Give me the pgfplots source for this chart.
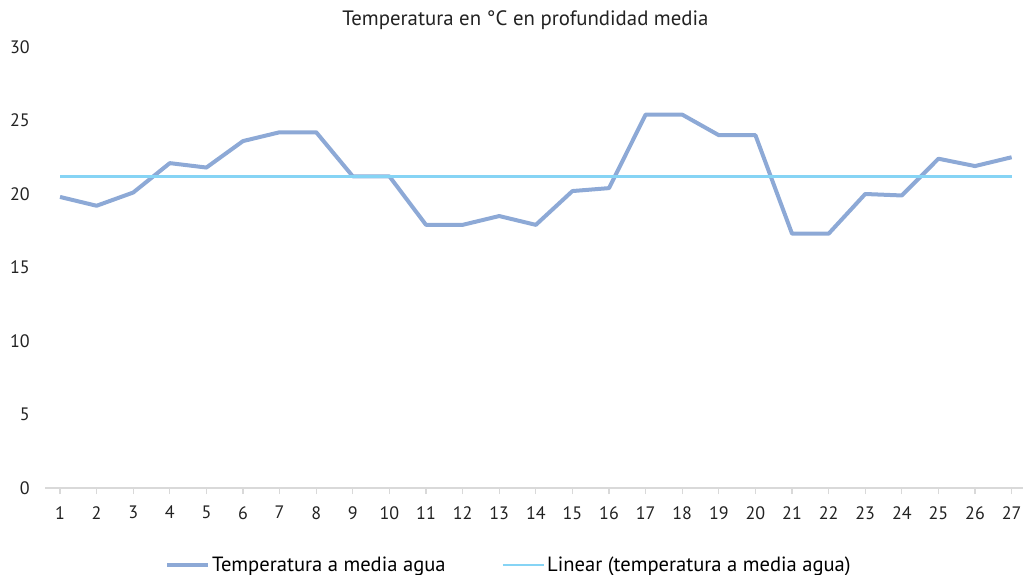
\documentclass[border=0pt]{standalone}
\usepackage{fontspec}
\setmainfont{PT Sans}
\usepackage{pgfplots}
\pgfplotsset{compat=1.18}
\definecolor{mainline}{HTML}{8DA9D6}
\definecolor{trend}{HTML}{86D4F5}
\definecolor{axgray}{HTML}{D9D9D9}
\definecolor{txt}{HTML}{222222}
\begin{document}
\fontsize{18pt}{22pt}\selectfont
\begin{tikzpicture}[x=1pt,y=1pt]
\useasboundingbox (-45,-87) rectangle (982,488);
\begin{axis}[
  at={(0,0)}, anchor=origin,
  scale only axis, width=977.6pt, height=441pt,
  xmin=0.59, xmax=27.3, ymin=0, ymax=30,
  axis y line=none,
  axis x line*=bottom,
  x axis line style={axgray, line width=1.5pt, -},
  xtick={1,...,27},
  ytick={0,5,...,30},
  tick style={axgray, line width=1.2pt},
  major tick length=6pt,
  xtick align=outside,
  /pgf/number format/assume math mode=true,
  tick label style={font=\fontsize{18pt}{22pt}\selectfont, text=txt},
  xticklabel style={yshift=-6pt},
  clip=false,
  legend style={at={(0.4746,-0.175)}, anchor=center, draw=none, fill=none,
    legend columns=2, font=\fontsize{20.6pt}{24pt}\selectfont,
    /tikz/every even column/.append style={column sep=54pt}},
  legend image code/.code={\path (0pt,0pt) -- (41pt,0pt);\draw[#1] (0pt,0pt) -- (37pt,0pt);},
]
\addplot[mainline, line width=4pt, line join=round] coordinates {
(1,19.8) (2,19.2) (3,20.1) (4,22.1) (5,21.8) (6,23.6) (7,24.2) (8,24.2)
(9,21.2) (10,21.2) (11,17.9) (12,17.9) (13,18.5) (14,17.9) (15,20.2)
(16,20.4) (17,25.4) (18,25.4) (19,24.0) (20,24.0) (21,17.3) (22,17.3)
(23,20.0) (24,19.9) (25,22.4) (26,21.9) (27,22.5)};
\addlegendentry{Temperatura a media agua}
\addplot[trend, line width=2.5pt] coordinates {(1,21.2) (27,21.2)};
\addlegendentry{Linear (temperatura a media agua)}
\end{axis}
\foreach \v in {0,5,10,15,20,25,30} {
  \node[anchor=east, text=txt, inner sep=0pt] at (-15, \v*14.7) {\v};
}
\node[text=txt, font=\fontsize{20.8pt}{24pt}\selectfont] at (480.5,468) {Temperatura en °C en profundidad media};
\end{tikzpicture}
\end{document}
